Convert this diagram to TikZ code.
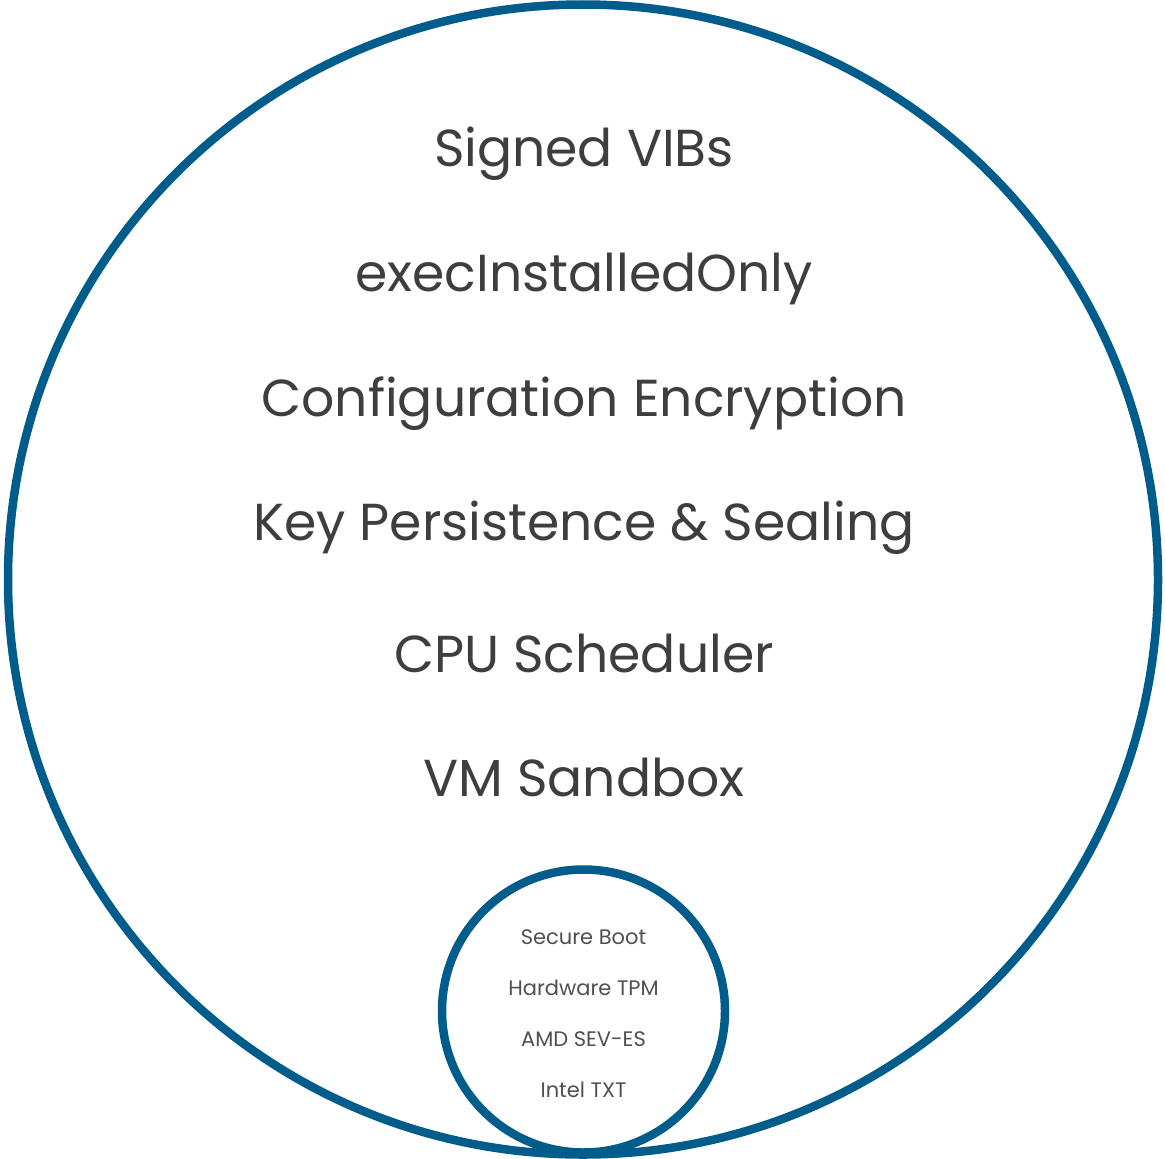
\documentclass[tikz,border=0pt]{standalone}
\usepackage{fontspec}
\setmainfont{Poppins}
\definecolor{ringblue}{RGB}{0,92,138}
\definecolor{txtgray}{RGB}{62,62,62}
\definecolor{smallgray}{RGB}{80,80,80}
\begin{document}
\begin{tikzpicture}[x=1pt,y=-1pt,
  ring/.style={draw=ringblue,line width=8.5pt,fill=none},
  bigtxt/.style={text=txtgray,font=\fontsize{52}{52}\selectfont,anchor=center,inner sep=0pt},
  smalltxt/.style={text=smallgray,font=\fontsize{21}{21}\selectfont,anchor=center,inner sep=0pt}]
\useasboundingbox (0,0) rectangle (1165,1159);
\node[ring,circle,minimum size=1150pt,inner sep=0pt] (outer) at (583,579.5) {};
\node[ring,circle,minimum size=283pt,inner sep=0pt,fill=white] (inner) at (583.5,1011) {};
\node[bigtxt] (t1) at (584,154) {Signed VIBs};
\node[bigtxt] (t2) at (584,279) {execInstalledOnly};
\node[bigtxt] (t3) at (584,404) {Configuration Encryption};
\node[bigtxt] (t4) at (584,528) {Key Persistence \& Sealing};
\node[bigtxt] (t5) at (584,653) {CPU Scheduler};
\node[bigtxt] (t6) at (584,777) {VM Sandbox};
\node[smalltxt] (s1) at (583.5,937) {Secure Boot};
\node[smalltxt] (s2) at (583.5,988) {Hardware TPM};
\node[smalltxt] (s3) at (583.5,1039) {AMD SEV-ES};
\node[smalltxt] (s4) at (583.5,1090) {Intel TXT};
\end{tikzpicture}
\end{document}
